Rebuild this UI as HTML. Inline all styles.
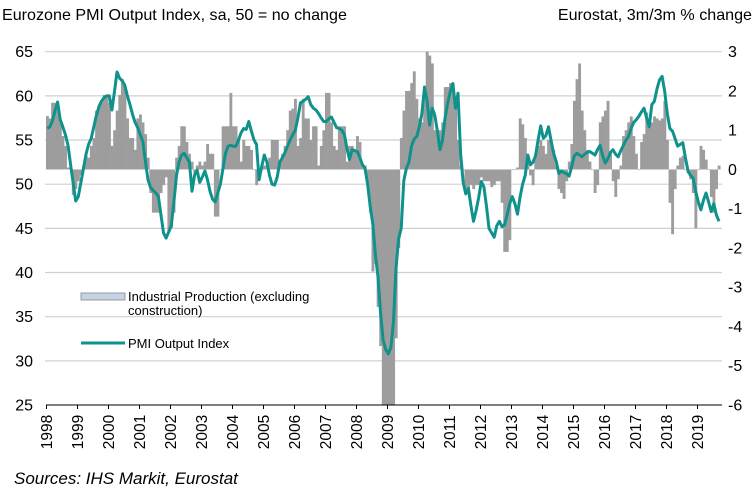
<!DOCTYPE html>
<html><head><meta charset="utf-8">
<style>
html,body{margin:0;padding:0;background:#fff;}
svg{display:block;font-family:"Liberation Sans",Arial,sans-serif;}
</style></head>
<body>
<svg id="chart" width="756" height="502" viewBox="0 0 756 502" xmlns="http://www.w3.org/2000/svg">
<text x="2" y="20" font-size="16.1" fill="#000">Eurozone PMI Output Index, sa, 50 = no change</text>
<text x="752" y="20" font-size="16.1" fill="#000" text-anchor="end">Eurostat, 3m/3m % change</text>
<g id="grid"></g>
<g id="bars"></g>
<g id="line"></g>
<g id="axes"></g>
<g>
  <rect x="81" y="293" width="44" height="7" fill="#c5d3e6" stroke="#999" stroke-width="1"/>
  <text x="128" y="301" font-size="13" fill="#000">Industrial Production (excluding</text>
  <text x="128" y="315" font-size="13" fill="#000">construction)</text>
  <line x1="81" y1="343" x2="125" y2="343" stroke="#0f928c" stroke-width="3"/>
  <text x="128" y="348" font-size="13" fill="#000">PMI Output Index</text>
</g>
<text x="14" y="484" font-size="17" font-style="italic" fill="#000">Sources: IHS Markit, Eurostat</text>
</svg>
<script>
const years = ["1998","1999","2000","2001","2002","2003","2004","2005","2006","2007","2008","2009","2010","2011","2012","2013","2014","2015","2016","2017","2018","2019"];
const leftTicks = [25,30,35,40,45,50,55,60,65];
const rightTicks = [-6,-5,-4,-3,-2,-1,0,1,2,3];
const pmi = [
56.3,56.5,57.2,58.3,59.3,57.3,56.5,55.6,54.4,52.3,50.2,48.1,
48.6,50.2,51.8,53.4,54.5,55.2,56.5,57.8,58.8,59.4,59.8,60.0,
60.0,58.4,60.5,62.7,62.0,61.7,61.2,60.0,59.0,57.9,57.0,56.4,
55.6,54.8,52.5,50.5,49.6,49.3,49.0,48.6,46.5,44.5,43.9,44.6,
45.3,48.0,51.0,52.5,53.3,53.5,53.0,52.5,49.2,51.0,51.6,50.2,
50.8,51.5,50.5,49.2,48.3,48.0,49.0,50.0,51.8,53.5,54.3,54.4,
54.3,54.3,55.0,55.8,56.3,56.2,57.1,56.0,55.0,54.5,50.5,52.0,
53.3,52.5,51.0,50.0,49.9,50.8,52.5,53.0,53.6,54.3,55.0,55.6,
56.1,57.5,59.2,59.4,59.6,59.9,59.0,58.6,58.4,58.0,57.5,57.1,
57.1,57.4,57.6,57.0,56.4,56.3,56.1,55.6,54.0,52.8,53.9,53.8,
53.7,53.0,52.2,51.8,50.0,47.5,45.5,42.0,39.5,35.5,32.4,31.3,
30.8,31.5,34.5,40.5,43.8,45.0,50.4,51.8,52.5,54.3,55.1,55.4,
56.5,58.0,61.0,59.5,56.7,58.6,57.8,56.0,53.9,55.0,57.5,59.2,
60.5,61.4,58.6,60.3,53.5,50.2,48.9,49.5,47.5,45.8,47.0,48.5,
50.3,49.7,47.5,45.0,44.5,44.0,45.3,45.8,45.2,45.4,46.5,47.8,
48.6,47.8,46.6,48.5,50.0,51.0,53.3,52.2,52.5,53.2,55.0,56.6,
55.2,55.5,56.5,55.0,53.5,52.6,51.2,51.5,51.3,51.2,50.9,52.0,
53.2,53.5,53.3,53.1,53.4,53.6,53.7,53.5,53.3,53.9,54.4,53.2,
52.4,52.9,53.6,53.9,53.4,53.1,53.8,54.4,55.0,55.4,56.3,57.0,
57.3,57.7,58.2,58.6,57.5,56.5,59.0,59.4,60.8,61.8,62.2,60.5,
58.0,56.3,56.0,55.2,54.3,54.5,54.7,53.0,51.5,51.0,50.7,49.2,
48.0,47.1,48.2,49.0,48.0,46.9,47.8,46.5,45.8];
const ip = [
1.36,1.3,1.7,1.7,1.5,1.2,0.85,0.6,0.05,0.05,-0.65,-0.5,
-0.3,-0.15,0.1,0.35,0.3,0.6,0.8,1.5,1.65,1.7,1.9,1.9,
1.7,0.6,1.0,1.5,1.9,2.3,2.1,1.3,0.8,0.8,0.5,1.3,
1.4,1.2,0.9,0.3,-0.6,-1.1,-1.1,-1.1,-0.6,-0.4,-0.2,-1.6,
-1.5,-1.1,0.3,0.6,1.1,1.1,0.7,0.4,0.2,-0.1,0.1,0.2,
0.1,0.2,0.65,0.4,0.4,-1.2,-1.2,0.0,1.1,1.1,1.1,1.95,
1.1,1.1,0.75,0.2,0.75,0.6,0.6,0.5,0.0,-0.4,-0.1,0.0,
0.1,0.1,0.3,0.75,0.75,0.75,0.25,0.4,0.6,1.0,1.5,1.55,
1.8,0.6,0.8,1.8,1.3,1.3,0.75,1.1,1.1,0.1,0.6,1.0,
1.95,1.95,1.2,0.6,0.5,1.1,1.1,1.1,0.2,0.6,0.6,0.5,
0.85,0.7,0.1,0.1,-0.4,-1.1,-2.6,-2.4,-3.5,-4.5,-6.5,-6.5,
-6.5,-6.5,-6.5,-4.3,-2.0,0.8,1.5,2.0,2.0,2.2,2.5,1.8,
1.3,1.2,1.95,3.0,2.9,2.7,1.0,1.0,1.0,1.2,2.1,2.1,
2.2,2.2,1.6,0.75,0.1,0,-0.5,-0.5,-0.4,-0.5,-0.4,-0.4,
-0.2,-0.3,-0.3,-0.3,-0.45,-0.4,-0.3,-0.3,-0.85,-2.1,-2.1,-1.8,
0,0,0.05,1.3,1.15,0.8,0.3,-0.15,-0.4,0.35,0.6,0.75,
0.6,0.4,0.75,0.7,0.5,0.1,-0.5,-0.6,-0.75,-0.3,0.2,0.65,
1.75,2.3,2.7,1.5,1.0,0.5,0.2,0,-0.6,-0.4,1.2,1.35,
1.5,1.75,0.4,-0.3,-0.7,-0.25,0.1,0.85,1.0,1.2,1.35,0.85,
0.4,0,0.7,0.9,1.45,1.3,1.2,1.35,1.3,1.25,1.3,1.75,
0.75,-0.85,-1.65,-0.5,0.1,0.3,0.35,0,-0.1,-0.25,-0.6,-1.5,
0,0.6,0.5,0.25,0,-0.7,-1.1,-0.5,0.1];

const NS = "http://www.w3.org/2000/svg";
const X0 = 46, MW = 31/12, PLOT_R = 722, TOP = 51.7, BOT = 405;
function xMonth(m){ return X0 + m*MW; }
function yLeft(v){ return TOP + (65 - v)*(BOT-TOP)/40; }
function yRight(v){ return TOP + (3 - v)*(BOT-TOP)/9; }
function mk(tag, attrs, parent){
  const el = document.createElementNS(NS, tag);
  for (const k in attrs) el.setAttribute(k, attrs[k]);
  parent.appendChild(el);
  return el;
}
const gGrid = document.getElementById('grid');
const gBars = document.getElementById('bars');
const gLine = document.getElementById('line');
const gAxes = document.getElementById('axes');

leftTicks.forEach(function(v){
  const y = yLeft(v);
  if (v > 25) {
    const gl = mk('line', {x1:X0-1, x2:PLOT_R, y1:y, y2:y, stroke:'#d0d0d0', 'stroke-width':1.2}, gGrid);
    
    
  }
  const t = mk('text', {x:33, y:y+5.5, 'font-size':16, 'text-anchor':'end', fill:'#000'}, gAxes);
  t.textContent = v;
  
  
});
rightTicks.forEach(function(v){
  const y = yRight(v);
  const t = mk('text', {x:728, y:y+5.5, 'font-size':16, 'text-anchor':'start', fill:'#000'}, gAxes);
  t.textContent = v;
  
  
});

const y0 = yRight(0);
ip.forEach(function(v, i){
  let yv = yRight(v);
  if (yv > BOT) yv = BOT;
  const r = mk('rect', {x:xMonth(i), width:MW+0.3, y:Math.min(yv,y0), height:Math.max(Math.abs(yv-y0),0.6), fill:'#9d9d9d'}, gBars);
  
  
});

const pts = pmi.map(function(v, i){ return (xMonth(i)+MW/2).toFixed(1) + ',' + yLeft(v).toFixed(1); }).join(' ');
const pl = mk('polyline', {points:pts, fill:'none', stroke:'#0f928c', 'stroke-width':3, 'stroke-linejoin':'round'}, gLine);



const ax = mk('line', {x1:X0, x2:PLOT_R, y1:BOT, y2:BOT, stroke:'#000', 'stroke-width':1}, gAxes);


years.forEach(function(yr, i){
  const x = X0 + i*31 + 0.5;
  const tk = mk('line', {x1:x, x2:x, y1:BOT, y2:BOT+4, stroke:'#000', 'stroke-width':1}, gAxes);
  
  
  const t = mk('text', {x:0, y:0, 'font-size':15.5, 'text-anchor':'middle', fill:'#000', transform:'translate(' + (x+5.5) + ',' + 432 + ') rotate(-90)'}, gAxes);
  t.textContent = yr;
  
  
});
</script>
</body></html>
